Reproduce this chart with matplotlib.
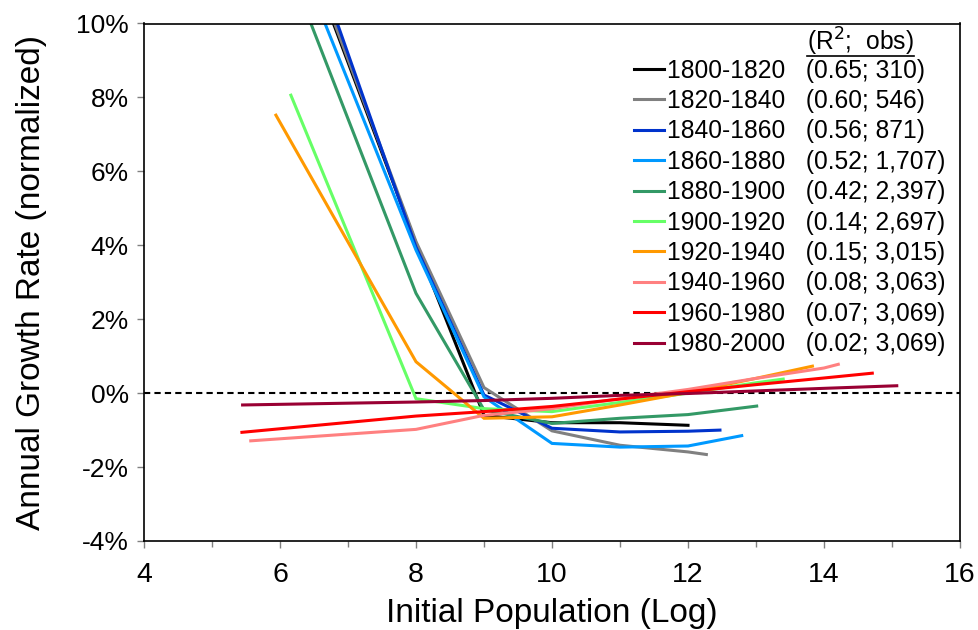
import matplotlib
matplotlib.use("Agg")
import matplotlib.pyplot as plt
from matplotlib.ticker import MultipleLocator, FuncFormatter
from matplotlib.lines import Line2D

plt.rcParams["font.family"] = ["Liberation Sans", "DejaVu Sans"]

# log initial population (x) vs normalized annual growth rate in % (y)
periods = ["1800-1820", "1820-1840", "1840-1860", "1860-1880", "1880-1900",
           "1900-1920", "1920-1940", "1940-1960", "1960-1980", "1980-2000"]
r2_obs = ["(0.65; 310)", "(0.60; 546)", "(0.56; 871)", "(0.52; 1,707)",
          "(0.42; 2,397)", "(0.14; 2,697)", "(0.15; 3,015)", "(0.08; 3,063)",
          "(0.07; 3,069)", "(0.02; 3,069)"]
colors = ["#000000", "#808080", "#0033CC", "#0099FF", "#339966",
          "#66FF66", "#FF9900", "#FF8080", "#FF0000", "#990033"]

x_1800 = [6.5, 8, 9, 10, 11, 12]
y_1800 = [11.4, 4.05, -0.6, -0.8, -0.8, -0.87]
x_1820 = [6.5, 8, 9, 10, 11, 12, 12.27]
y_1820 = [11.5, 4.1, 0.15, -1.02, -1.41, -1.59, -1.66]
x_1840 = [6.5, 8, 9, 10, 11, 12, 12.47]
y_1840 = [11.8, 3.95, -0.05, -0.95, -1.05, -1.03, -1.0]
x_1860 = [6.4, 8, 9, 10, 11, 12, 12.79]
y_1860 = [11.2, 3.87, -0.1, -1.36, -1.46, -1.43, -1.15]
x_1880 = [6.2, 8, 9, 10, 11, 12, 13.01]
y_1880 = [11.2, 2.7, -0.45, -0.82, -0.68, -0.58, -0.35]
x_1900 = [6.16, 8, 9, 10, 11, 12, 13, 13.4]
y_1900 = [8.06, -0.15, -0.42, -0.5, -0.25, 0.0, 0.28, 0.38]
x_1920 = [5.94, 8, 9, 10, 11, 12, 13, 13.83]
y_1920 = [7.52, 0.85, -0.68, -0.64, -0.32, 0.02, 0.4, 0.73]
x_1940 = [5.57, 8, 9, 10, 11, 12, 13, 14, 14.21]
y_1940 = [-1.29, -0.98, -0.6, -0.42, -0.15, 0.1, 0.4, 0.68, 0.78]
x_1960 = [5.44, 8, 9, 10, 11, 12, 13, 14, 14.71]
y_1960 = [-1.06, -0.62, -0.5, -0.36, -0.16, 0.04, 0.23, 0.41, 0.54]
x_1980 = [5.45, 8, 9, 10, 11, 12, 13, 14, 15.07]
y_1980 = [-0.32, -0.24, -0.2, -0.14, -0.06, -0.01, 0.06, 0.13, 0.2]

xs = [x_1800, x_1820, x_1840, x_1860, x_1880, x_1900, x_1920, x_1940, x_1960, x_1980]
ys = [y_1800, y_1820, y_1840, y_1860, y_1880, y_1900, y_1920, y_1940, y_1960, y_1980]

fig = plt.figure(figsize=(9.79, 6.3), dpi=100)
ax = fig.add_axes([144 / 979, 89 / 630, 816 / 979, 517.5 / 630])

ax.axhline(0, color="black", linestyle=(0, (3, 2)), linewidth=1.5, zorder=1)

for period, stat, c, x, y in zip(periods, r2_obs, colors, xs, ys):
    ax.plot(x, y, color=c, linewidth=2.2, label=f"{period}   {stat}",
            solid_joinstyle="miter")

ax.set_xlim(4, 16)
ax.set_ylim(-4, 10)
ax.xaxis.set_major_locator(MultipleLocator(2))
ax.xaxis.set_minor_locator(MultipleLocator(1))
ax.yaxis.set_major_locator(MultipleLocator(2))
ax.yaxis.set_major_formatter(FuncFormatter(lambda v, _: f"{v:.0f}%"))

ax.tick_params(axis="both", which="major", direction="out", length=5,
               width=1, color="#808080", pad=6)
ax.tick_params(axis="y", which="major", labelsize=19)
ax.tick_params(axis="x", which="major", labelsize=20.5, pad=10)
ax.tick_params(axis="x", which="minor", direction="out", length=4,
               width=1, color="#808080")
for sp in ax.spines.values():
    sp.set_linewidth(1.2)
    sp.set_color("black")

ax.set_xlabel("Initial Population (Log)", fontsize=24, labelpad=7)
ax.set_ylabel("Annual Growth Rate (normalized)", fontsize=24, labelpad=21)

leg = ax.legend(loc="upper left", bbox_to_anchor=(0.6, 0.932),
                frameon=False, fontsize=17.7, handlelength=1.25,
                handletextpad=0.1, labelspacing=0.26, borderaxespad=0,
                borderpad=0)

# column header over the R2 / obs values, underlined
hdr = ax.text(0.813, 0.965, "(R$^2$;  obs)", transform=ax.transAxes,
              fontsize=17.7, ha="left", va="center")
fig.canvas.draw()
bb = hdr.get_window_extent().transformed(fig.transFigure.inverted())
fig.add_artist(Line2D([bb.x0, bb.x1], [bb.y0 + 0.002, bb.y0 + 0.002],
                      color="black", linewidth=1.2,
                      transform=fig.transFigure))

fig.savefig("out.png", dpi=100)
